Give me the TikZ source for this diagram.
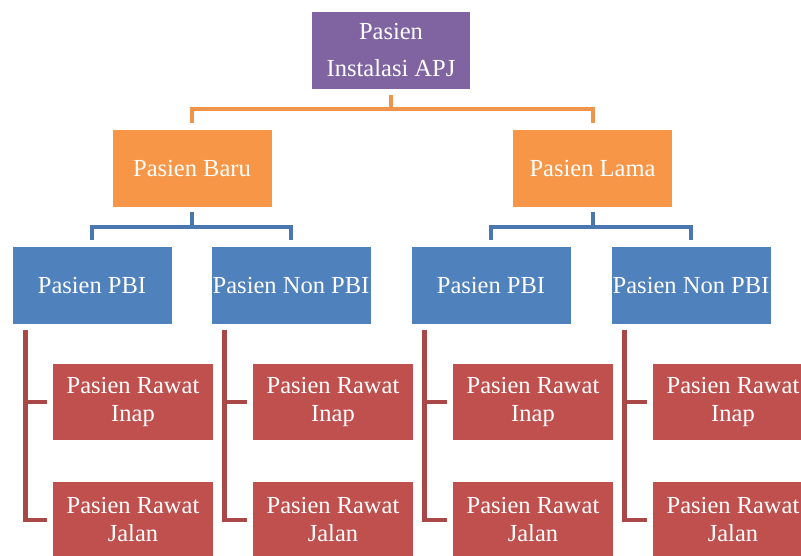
\documentclass[tikz,border=0pt]{standalone}
\usepackage{fontspec}
\setmainfont{Liberation Serif}
\definecolor{cpurple}{HTML}{8064A2}
\definecolor{corange}{HTML}{F79646}
\definecolor{cblue}{HTML}{4F81BD}
\definecolor{cred}{HTML}{C0504D}
\definecolor{lorange}{HTML}{F0944C}
\definecolor{lblue}{HTML}{4A77AF}
\definecolor{lred}{HTML}{A94846}
\tikzset{
  box/.style={inner sep=0pt, minimum width=159pt, minimum height=77pt, align=center,
    text=white, font=\fontsize{24.5}{28}\selectfont},
  topbox/.style={box, fill=cpurple, minimum width=158pt, font=\fontsize{24.5}{37}\selectfont},
  obox/.style={box, fill=corange},
  bbox/.style={box, fill=cblue},
  rbox/.style={box, fill=cred, minimum width=160pt, minimum height=76pt},
  oc/.style={draw=lorange, line width=4pt},
  bc/.style={draw=lblue, line width=4pt},
  rc/.style={draw=lred, line width=4.5pt},
}
\begin{document}
\begin{tikzpicture}[x=1pt,y=-1pt]
\useasboundingbox (0,0) rectangle (801,556);
\clip (0,0) rectangle (801,556);
\fill[white] (0,0) rectangle (801,556);

\node[topbox] (top) at (391,50.5) {Pasien\\Instalasi APJ};
\node[obox] (baru) at (192,168.5) {Pasien Baru};
\node[obox] (lama) at (592.5,168.5) {Pasien Lama};

\node[bbox] (b1) at (92,285.5) {Pasien PBI};
\node[bbox] (b2) at (291,285.5) {Pasien Non PBI};
\node[bbox] (b3) at (491,285.5) {Pasien PBI};
\node[bbox] (b4) at (691,285.5) {Pasien Non PBI};

\foreach \i/\x in {1/133,2/333,3/533,4/733}{
  \node[rbox] (inap\i) at (\x,402) {Pasien Rawat\\Inap};
  \node[rbox] (jalan\i) at (\x,520) {Pasien Rawat\\Jalan};
}

% orange connectors
\draw[oc] ([yshift=-6pt]top.south) -- ([yshift=-20pt]top.south);
\draw[oc] ([yshift=7pt]baru.north) |- ([yshift=-20pt]top.south) -| ([yshift=7pt]lama.north);

% blue connectors
\draw[bc] ([yshift=-5pt]baru.south) -- ([yshift=-20pt]baru.south);
\draw[bc] ([yshift=7pt]b1.north) |- ([yshift=-20pt]baru.south) -| ([yshift=7pt]b2.north);
\draw[bc] ([yshift=-5pt]lama.south) -- ([yshift=-20pt]lama.south);
\draw[bc] ([yshift=7pt]b3.north) |- ([yshift=-20pt]lama.south) -| ([yshift=7pt]b4.north);

% red connectors
\foreach \i in {1,2,3,4}{
  \coordinate (v\i) at ([xshift=13pt,yshift=-6pt]b\i.south west);
  \coordinate (ie\i) at ([xshift=-6pt]inap\i.west);
  \coordinate (je\i) at ([xshift=-6pt]jalan\i.west);
  \draw[rc] (v\i) |- (je\i);
  \draw[rc] (ie\i) -- (v\i |- ie\i);
}
\end{tikzpicture}
\end{document}
